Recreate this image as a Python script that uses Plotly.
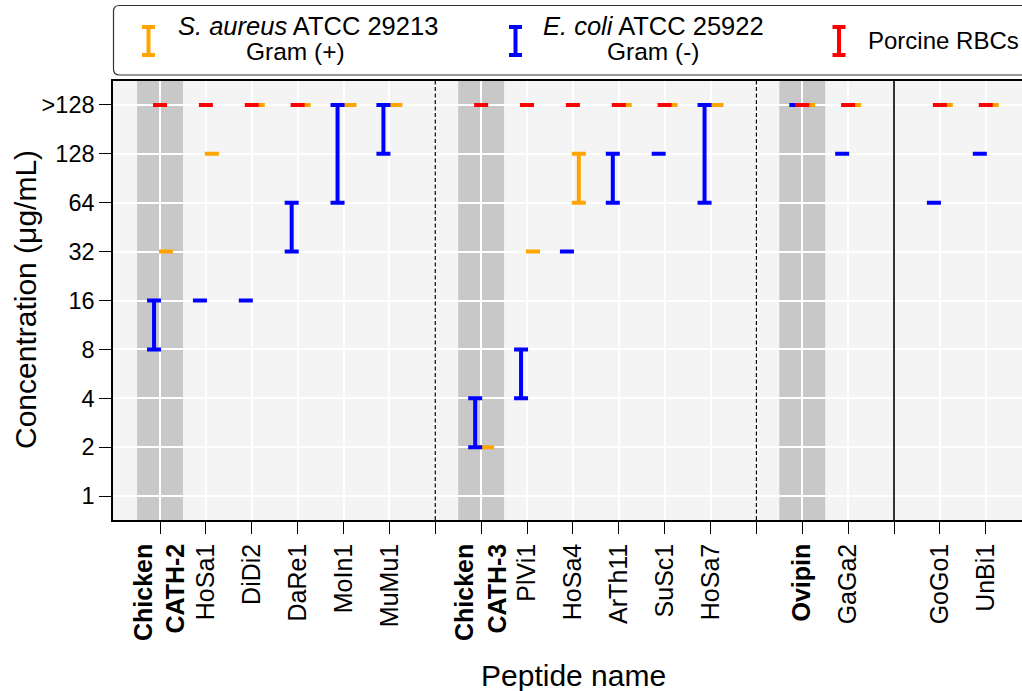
import plotly.graph_objects as go

# ---------------- data ----------------
conc_labels = ["1", "2", "4", "8", "16", "32", "64", "128", ">128"]

group1 = ["Chicken CATH-2", "HoSa1", "DiDi2", "DaRe1", "MoIn1", "MuMu1"]
group2 = ["Chicken CATH-3", "PlVi1", "HoSa4", "ArTh11", "SuSc1", "HoSa7"]
group3 = ["Ovipin", "GaGa2"]
group4 = ["GoGo1", "UnBi1"]
reference_peptides = ["Chicken CATH-2", "Chicken CATH-3", "Ovipin"]

# MIC / HC ranges (low, high), in order group1 + group2 + group3 + group4
saureus_low = ["32", "128", ">128", ">128", ">128", ">128",
               "2", "32", "64", ">128", ">128", ">128",
               ">128", ">128", ">128", ">128"]
saureus_high = ["32", "128", ">128", ">128", ">128", ">128",
                "2", "32", "128", ">128", ">128", ">128",
                ">128", ">128", ">128", ">128"]
ecoli_low = ["8", "16", "16", "32", "64", "128",
             "2", "4", "32", "64", "128", "64",
             ">128", "128", "64", "128"]
ecoli_high = ["16", "16", "16", "64", ">128", ">128",
              "4", "8", "32", "128", "128", ">128",
              ">128", "128", "64", "128"]
rbc_low = [">128", ">128", ">128", ">128", None, None,
           ">128", ">128", ">128", ">128", ">128", None,
           ">128", ">128", ">128", ">128"]
rbc_high = [">128", ">128", ">128", ">128", None, None,
            ">128", ">128", ">128", ">128", ">128", None,
            ">128", ">128", ">128", ">128"]

# ---------------- positions ----------------
groups = [group1, group2, group3, group4]
peptides, positions, separators = [], [], []
pos = 0
for gi, g in enumerate(groups):
    for p in g:
        peptides.append(p)
        positions.append(pos)
        pos += 1
    if gi < len(groups) - 1:
        separators.append(pos)
        pos += 1


def yidx(v):
    return None if v is None else conc_labels.index(v)


FONT = "Arial, Liberation Sans, sans-serif"
fig = go.Figure()

series = [
    ("S. aureus", saureus_low, saureus_high, "#FFA500", 0.13),
    ("E. coli", ecoli_low, ecoli_high, "#0000FF", -0.13),
    ("Porcine RBCs", rbc_low, rbc_high, "#FF0000", 0.0),
]
for name, lo, hi, col, off in series:
    xs, ys, up = [], [], []
    for p, a, b in zip(positions, lo, hi):
        if a is None:
            continue
        xs.append(p + off)
        ys.append(yidx(a))
        up.append(yidx(b) - yidx(a))
    fig.add_trace(go.Scatter(
        x=xs, y=ys, mode="markers", name=name,
        marker=dict(color="rgba(0,0,0,0)", size=1),
        error_y=dict(type="data", symmetric=False, array=up,
                     arrayminus=[0] * len(up), color=col,
                     thickness=4, width=7),
        showlegend=False, hoverinfo="skip"))

# reference bands
shapes = []
for p, name in zip(positions, peptides):
    if name in reference_peptides:
        shapes.append(dict(type="rect", xref="x", yref="paper", x0=p - 0.5, x1=p + 0.5,
                           y0=0, y1=1, fillcolor="#c8c8c8", line=dict(width=0),
                           layer="below"))
for i, s in enumerate(separators):
    shapes.append(dict(type="line", xref="x", yref="paper", x0=s, x1=s, y0=0, y1=1,
                       line=dict(color="black", width=1.2 if i < 2 else 1.6,
                                 dash="4px,2.5px" if i < 2 else "solid")))

# manual legend
L, R, T, B = 113, 909, 81, 439


def px(x):
    return (x - L) / R


def py(y):
    return (520 - y) / B


bx0, bx1, by0, by1, r = 113.5, 1035, 5.5, 75, 6
shapes.append(dict(
    type="path", xref="paper", yref="paper",
    path=(f"M{px(bx0)},{py(by0 + r)} Q{px(bx0)},{py(by0)} {px(bx0 + r)},{py(by0)} "
          f"L{px(bx1)},{py(by0)} L{px(bx1)},{py(by1)} L{px(bx0 + r)},{py(by1)} "
          f"Q{px(bx0)},{py(by1)} {px(bx0)},{py(by1 - r)} Z"),
    line=dict(color="#333333", width=1.2), fillcolor="white"))
for cx, col in [(148.5, "#FFA500"), (515.5, "#0000FF"), (839, "#FF0000")]:
    shapes.append(dict(
        type="path", xref="paper", yref="paper",
        path=(f"M{px(cx - 6.5)},{py(27)} L{px(cx + 6.5)},{py(27)} "
              f"M{px(cx)},{py(27)} L{px(cx)},{py(55)} "
              f"M{px(cx - 6.5)},{py(55)} L{px(cx + 6.5)},{py(55)}"),
        line=dict(color=col, width=4)))

annotations = []
for text, x, y, xa, size in [
    ("<i>S. aureus</i> ATCC 29213", 308, 25.5, "center", 25.5),
    ("Gram (+)", 295.5, 51.5, "center", 24.5),
    ("<i>E. coli</i> ATCC 25922", 653, 25.5, "center", 25.5),
    ("Gram (-)", 653, 51.5, "center", 24.5),
    ("Porcine RBCs", 866, 40.5, "left", 24),
]:
    annotations.append(dict(text=text, x=px(x), y=py(y), xref="paper", yref="paper",
                            xanchor=xa, yanchor="middle", showarrow=False,
                            font=dict(family=FONT, size=size, color="black")))
# axis titles
annotations.append(dict(text="Peptide name", x=px(573.5), y=py(675), xref="paper",
                        yref="paper", xanchor="center", yanchor="middle",
                        showarrow=False, font=dict(family=FONT, size=30, color="black")))
annotations.append(dict(text="Concentration (μg/mL)", x=px(25), y=py(300), xref="paper",
                        yref="paper", xanchor="center", yanchor="middle", textangle=-90,
                        showarrow=False, font=dict(family=FONT, size=30, color="black")))

tickvals = positions + separators
ticktext = [f"<b>{n.replace(' ', '<br>')}</b>" if n in reference_peptides else n
            for n in peptides] + [""] * len(separators)

fig.update_layout(
    width=1022, height=691,
    margin=dict(l=113, r=0, t=81, b=171),
    paper_bgcolor="white", plot_bgcolor="#f4f4f4",
    font=dict(family=FONT, color="black"),
    shapes=shapes, annotations=annotations,
    xaxis=dict(range=[-1.025, 18.79], tickvals=tickvals, ticktext=ticktext,
               tickangle=-90, tickfont=dict(size=25), ticks="outside", ticklen=12,
               tickcolor="black", showgrid=True, gridcolor="white", gridwidth=1.5,
               showline=True, linecolor="black", linewidth=1.5, mirror=True,
               zeroline=False),
    yaxis=dict(range=[-0.49, 8.49], tickvals=list(range(len(conc_labels))),
               ticktext=conc_labels, tickfont=dict(size=23.5), ticks="outside", ticklen=12,
               tickcolor="black", showgrid=True, gridcolor="white", gridwidth=1.5,
               showline=True, linecolor="black", linewidth=1.5, zeroline=False),
)

fig.write_html("out.html", config={"displayModeBar": False},
               post_script="document.body.style.margin='0';document.body.style.overflow='hidden';")
